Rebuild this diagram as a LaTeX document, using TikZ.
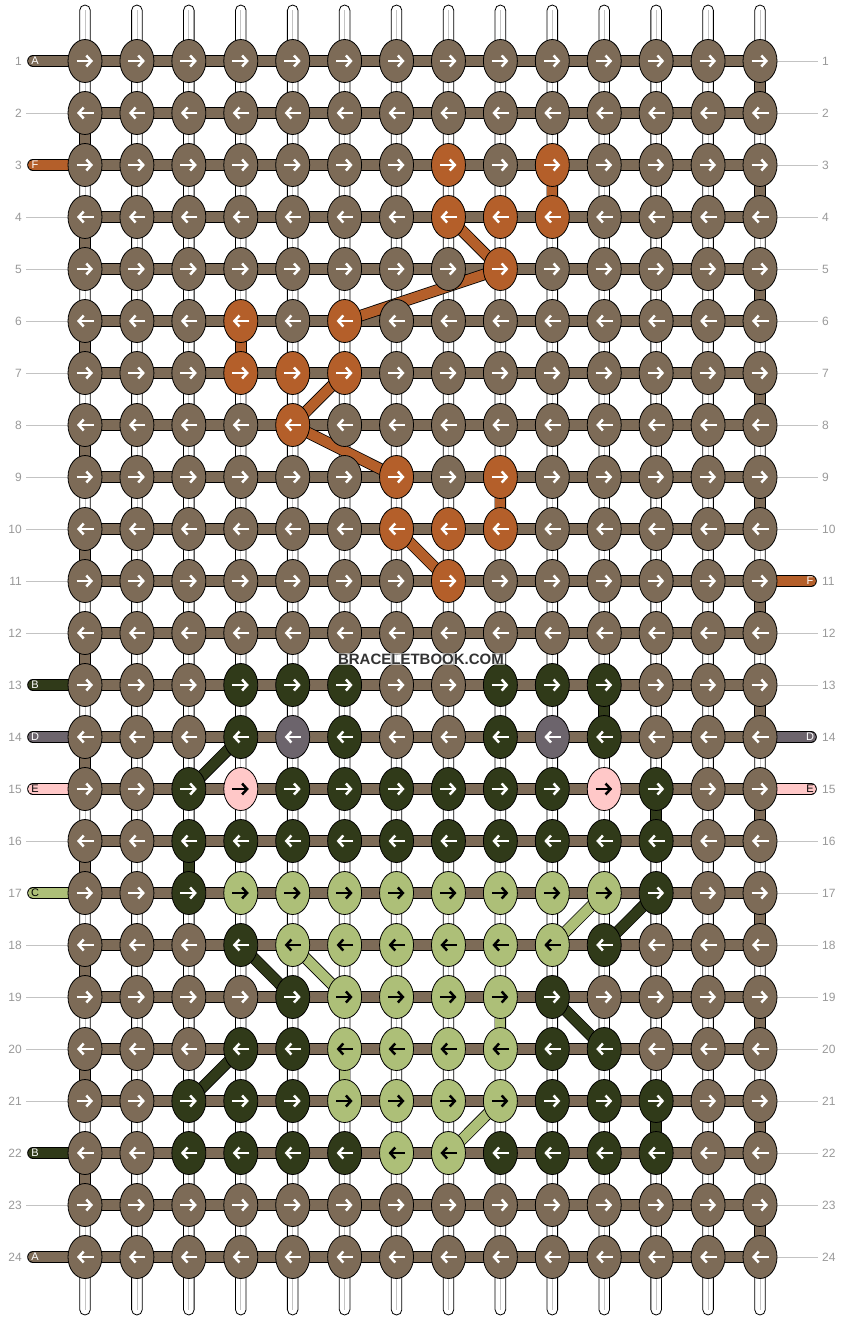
\documentclass[tikz,border=0pt]{standalone}
\usepackage{fontspec}
\setmainfont{Liberation Sans}
\usetikzlibrary{calc}
\usetikzlibrary{shapes}
\usetikzlibrary{arrows.meta}

\definecolor{colA}{RGB}{125,107,87}
\definecolor{colF}{RGB}{180,95,42}
\definecolor{colB}{RGB}{48,58,25}
\definecolor{colD}{RGB}{108,100,108}
\definecolor{colE}{RGB}{255,200,200}
\definecolor{colC}{RGB}{173,191,120}
\definecolor{rowgray}{RGB}{153,153,153}
\definecolor{linegray}{RGB}{195,195,195}
\definecolor{markgray}{RGB}{51,51,51}

\tikzset{
    knot/.style={ellipse, draw=black, line width=0.8pt, minimum width=34pt, minimum height=43pt, inner sep=0pt},
    link/.style={draw=black, line width=0.8pt, double=#1, double distance=10pt},
    stub/.style={link=#1, line cap=round},
    string/.style={draw=black, fill=white, line width=0.8pt, rounded corners=5.3pt},
    arr/.style={line width=2.5pt, -{Straight Barb[length=5pt,width=11pt]}},
    rownum/.style={text=rowgray, font=\fontsize{12}{14}\selectfont, inner sep=0pt},
    tag/.style={font=\fontsize{11}{12}\selectfont, inner sep=0pt}
}

\begin{document}
\begin{tikzpicture}[x=1pt,y=-1pt]
    \fill[white] (0,0) rectangle (844,1320);
    \useasboundingbox (0,0) rectangle (844,1320);

    %grid points
    \foreach \r in {1,...,24}
        \foreach \c in {1,...,14}
            \coordinate (p-\r-\c) at ({85+(\c-1)*51.923},{61+(\r-1)*52});

    %knot colours
    \foreach \k/\r/\cs in {colF/3/{8,10}, colF/4/{8,9,10}, colF/5/{9}, colF/6/{4,6}, colF/7/{4,5,6},
        colF/8/{5}, colF/9/{7,9}, colF/10/{7,8,9}, colF/11/{8},
        colB/13/{4,5,6,9,10,11}, colB/14/{4,6,9,11}, colB/15/{3,5,6,7,8,9,10,12},
        colB/16/{3,4,5,6,7,8,9,10,11,12}, colB/17/{3,12}, colB/18/{4,11}, colB/19/{5,10},
        colB/20/{4,5,10,11}, colB/21/{3,4,5,10,11,12}, colB/22/{3,4,5,6,9,10,11,12},
        colD/14/{5,10}, colE/15/{4,11},
        colC/17/{4,5,6,7,8,9,10,11}, colC/18/{5,6,7,8,9,10}, colC/19/{6,7,8,9},
        colC/20/{6,7,8,9}, colC/21/{6,7,8,9}, colC/22/{7,8}}
        \foreach \c in \cs
            \expandafter\xdef\csname kc-\r-\c\endcsname{\k};
    \expandafter\def\csname ink-colE\endcsname{black}
    \expandafter\def\csname ink-colC\endcsname{black}

    %strings
    \foreach \c in {1,...,14}{
        \draw[string] ($(p-1-\c)+(-5.3,-56)$) rectangle ($(p-24-\c)+(5.3,58)$);
        \draw[linegray, line width=0.8pt] ($(p-1-\c)+(0,-51)$) -- ($(p-24-\c)+(0,53)$);
    }

    %row numbers and side lines
    \foreach \r in {1,...,24}{
        \node[rownum, anchor=east] (nl-\r) at ($(p-\r-1)+(-63,0)$) {\r};
        \node[rownum, anchor=west] (nr-\r) at ($(p-\r-14)+(62,0)$) {\r};
    }
    \foreach \r in {2,4,5,6,7,8,9,10,11,12,16,18,19,20,21,23}
        \draw[linegray] ($(p-\r-1)+(-59,0)$) -- (p-\r-1);
    \foreach \r in {1,2,3,4,5,6,7,8,9,10,12,13,16,17,18,19,20,21,22,23,24}
        \draw[linegray] (p-\r-14) -- ($(p-\r-14)+(58,0)$);

    %thread ends
    \foreach \r/\k/\lt/\tc in {1/colA/A/white, 3/colF/F/white, 13/colB/B/white, 14/colD/D/white,
        15/colE/E/black, 17/colC/C/black, 22/colB/B/white, 24/colA/A/white}{
        \coordinate (inL-\r) at ($(p-\r-1)+(-52,0)$);
        \draw[stub=\k] (p-\r-1) -- (inL-\r);
        \node[tag, text=\tc] (tl-\r) at ($(inL-\r)+(2,0)$) {\lt};
    }
    \foreach \r/\k/\lt/\tc in {11/colF/F/white, 14/colD/D/white, 15/colE/E/black}{
        \coordinate (inR-\r) at ($(p-\r-14)+(51,0)$);
        \draw[stub=\k] (p-\r-14) -- (inR-\r);
        \node[tag, text=\tc] (tr-\r) at ($(inR-\r)+(-1,0)$) {\lt};
    }

    %rows
    \foreach \r in {1,...,24}
        \draw[link=colA] (p-\r-1) -- (p-\r-14);
    \foreach \r [evaluate=\r as \s using int(\r+1)] in {2,4,...,22}
        \draw[link=colA] (p-\r-1) -- (p-\s-1);
    \foreach \r [evaluate=\r as \s using int(\r+1)] in {1,3,...,23}
        \draw[link=colA] (p-\r-14) -- (p-\s-14);

    %coloured links
    \foreach \a/\b/\k in {3-10/4-10/colF, 4-8/5-9/colF, 5-9/6-6/colF, 6-4/7-4/colF,
        7-6/8-5/colF, 8-5/9-7/colF, 9-9/10-9/colF, 10-7/11-8/colF,
        13-11/14-11/colB, 14-4/15-3/colB, 15-12/16-12/colB, 16-3/17-3/colB,
        17-12/18-11/colB, 18-4/19-5/colB, 19-10/20-11/colB, 20-4/21-3/colB, 21-12/22-12/colB,
        17-11/18-10/colC, 18-5/19-6/colC, 19-9/20-9/colC, 20-6/21-6/colC, 21-9/22-8/colC}
        \draw[link=\k] (p-\a) -- (p-\b);

    %knots
    \foreach \r in {1,...,24}
        \foreach \c in {1,...,14}{
            \edef\kc{\ifcsname kc-\r-\c\endcsname\csname kc-\r-\c\endcsname\else colA\fi}
            \edef\ink{\ifcsname ink-\kc\endcsname black\else white\fi}
            \node[knot, fill=\kc] (k-\r-\c) at (p-\r-\c) {};
            \ifodd\r\relax
                \draw[arr, draw=\ink] ([xshift=-8.5pt]k-\r-\c.center) -- ([xshift=8pt]k-\r-\c.center);
            \else
                \draw[arr, draw=\ink] ([xshift=8.5pt]k-\r-\c.center) -- ([xshift=-8pt]k-\r-\c.center);
            \fi
        }

    \node[font=\bfseries\fontsize{15}{15}\selectfont, text=markgray, fill=white, fill opacity=0.6,
        text opacity=1, inner sep=1pt] (wm) at (421,659) {BRACELETBOOK.COM};
\end{tikzpicture}
\end{document}
